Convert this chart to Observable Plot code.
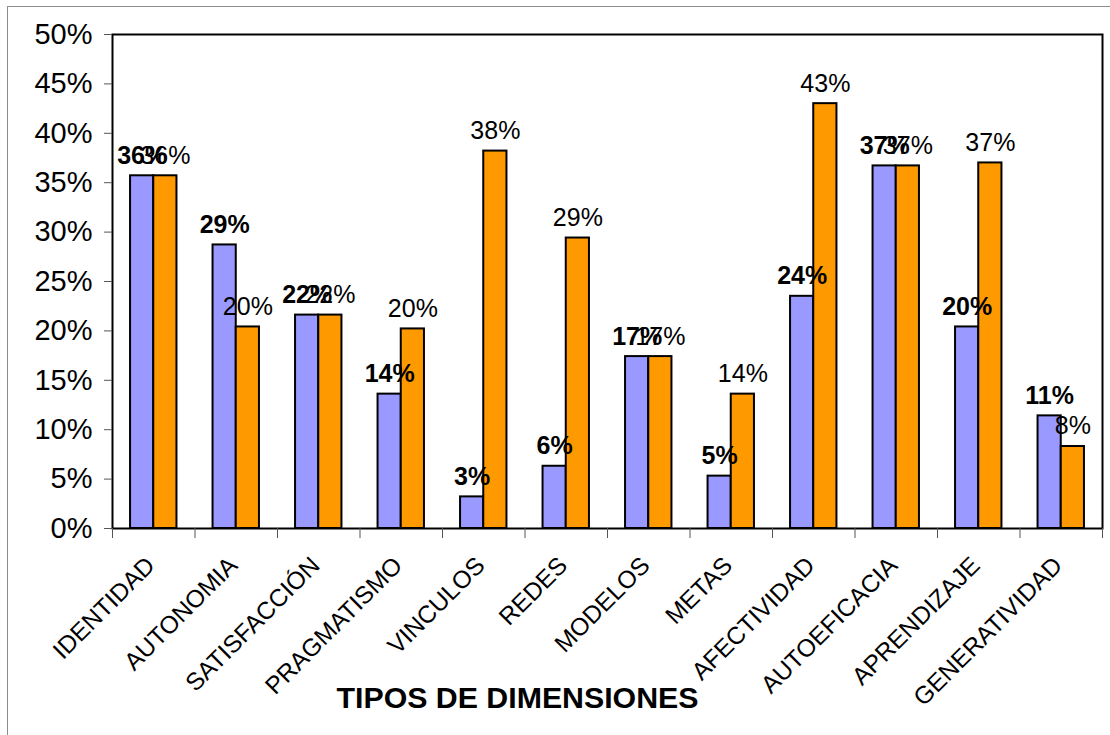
<!DOCTYPE html>
<html>
<head>
<meta charset="utf-8">
<script src="https://cdn.jsdelivr.net/npm/d3@7"></script>
<script src="https://cdn.jsdelivr.net/npm/@observablehq/plot@0.6"></script>
<style>
  html, body { margin: 0; padding: 0; background: #fff; }
  #wrap { position: relative; width: 1110px; height: 735px; overflow: hidden; }
  #border { position: absolute; left: 7px; top: 6px; width: 2000px; height: 2000px;
            border-top: 1px solid #8c8c8c; border-left: 1px solid #8c8c8c; pointer-events: none; }
</style>
</head>
<body>
<div id="wrap"><div id="border"></div></div>
<script>
const categories = ["IDENTIDAD", "AUTONOMIA", "SATISFACCIÓN", "PRAGMATISMO", "VINCULOS", "REDES",
  "MODELOS", "METAS", "AFECTIVIDAD", "AUTOEFICACIA", "APRENDIZAJE", "GENERATIVIDAD"];
const purpleValues = [35.7, 28.7, 21.6, 13.6, 3.2, 6.3, 17.4, 5.3, 23.5, 36.7, 20.4, 11.4];
const orangeValues = [35.7, 20.4, 21.6, 20.2, 38.2, 29.4, 17.4, 13.6, 43.0, 36.7, 37.0, 8.3];
const yTicks = [0, 5, 10, 15, 20, 25, 30, 35, 40, 45, 50];
const axisTitle = "TIPOS DE DIMENSIONES";

const purpleData = categories.map((c, i) => ({category: c, value: purpleValues[i]}));
const orangeData = categories.map((c, i) => ({category: c, value: orangeValues[i]}));

const font = "'Liberation Sans', Arial, Helvetica, sans-serif";
const half = 41.25;   // half of a category band, px
const barW = 23.2;

const chart = Plot.plot({
  width: 1110,
  height: 735,
  marginLeft: 112,
  marginRight: 8,
  marginTop: 34,
  marginBottom: 207,
  style: {fontFamily: font, color: "#000", background: "transparent", overflow: "visible"},
  x: {domain: categories, padding: 0, round: false},
  y: {domain: [0, 50]},
  marks: [
    Plot.barY(purpleData, {x: "category", y: "value", fill: "#9999FF", stroke: "#000", strokeWidth: 2,
      insetLeft: half - barW, insetRight: half}),
    Plot.barY(orangeData, {x: "category", y: "value", fill: "#FF9900", stroke: "#000", strokeWidth: 2,
      insetLeft: half, insetRight: half - barW}),
    Plot.frame({stroke: "#000", strokeWidth: 2}),
    Plot.axisY({ticks: yTicks, tickFormat: d => d + "%", tickSize: 8, tickPadding: 12,
      fontSize: 29, stroke: "#555", fill: "#000", label: null}),
    Plot.axisX({tickSize: 10, dx: -half, stroke: "#555", tickFormat: () => "", label: null}),
    Plot.axisX({ticks: [categories[categories.length - 1]], tickSize: 10, dx: half, stroke: "#555",
      tickFormat: () => "", label: null}),
    Plot.text(categories, {x: d => d, text: d => d, frameAnchor: "bottom", rotate: -45,
      textAnchor: "end", lineAnchor: "middle", dx: -3, dy: 33, fontSize: 24.5, fill: "#000"}),
    Plot.text(purpleData, {x: "category", y: "value", text: d => Math.round(d.value) + "%",
      dx: -barW / 2, dy: -12, lineAnchor: "bottom", fontSize: 25, fontWeight: "bold", fill: "#000"}),
    Plot.text(orangeData, {x: "category", y: "value", text: d => Math.round(d.value) + "%",
      dx: barW / 2, dy: -12, lineAnchor: "bottom", fontSize: 25, fill: "#000"}),
    Plot.text([axisTitle], {text: d => d, frameAnchor: "bottom-left", dx: 405, dy: 170,
      textAnchor: "middle", lineAnchor: "middle", fontSize: 30.3, fontWeight: "bold", fill: "#000"})
  ]
});
chart.style.position = "absolute";
chart.style.left = "0px";
chart.style.top = "0px";
document.getElementById("wrap").insertBefore(chart, document.getElementById("border"));
</script>
</body>
</html>
